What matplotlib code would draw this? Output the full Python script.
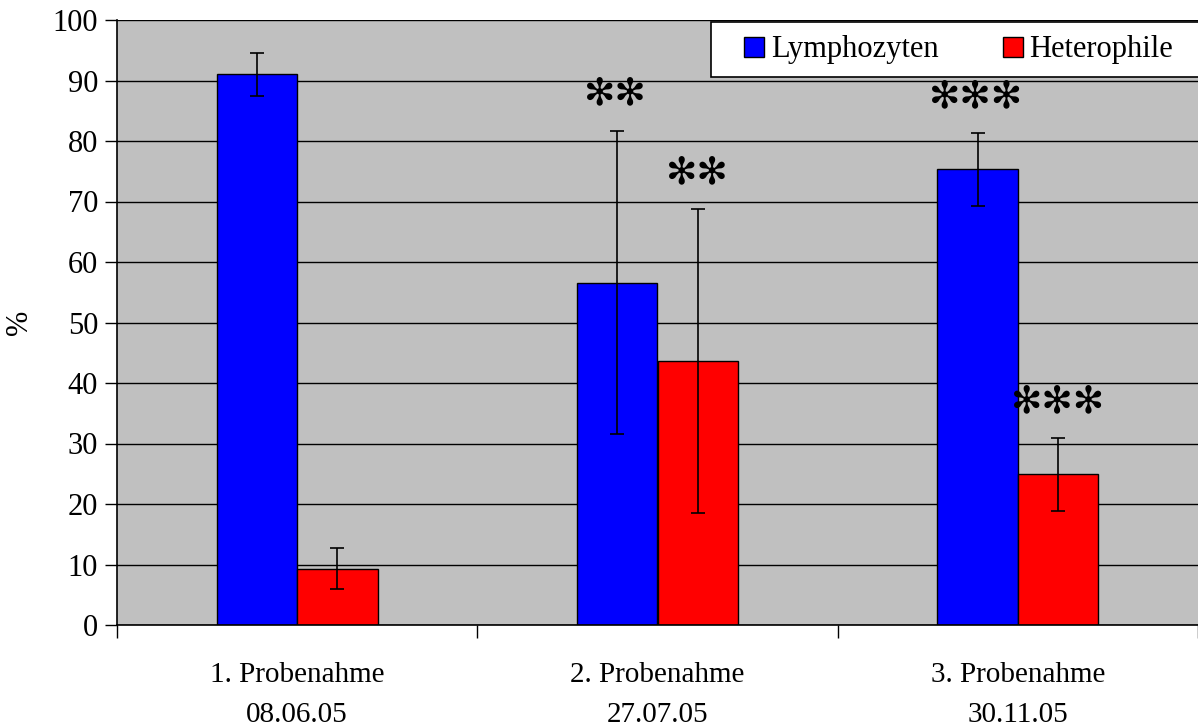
import matplotlib
matplotlib.use("Agg")
import matplotlib.pyplot as plt
from matplotlib.patches import Rectangle
import numpy as np

categories = ["1. Probenahme\n08.06.05", "2. Probenahme\n27.07.05", "3. Probenahme\n30.11.05"]
lymph = [91.0, 56.6, 75.3]
lymph_err = [3.5, 25.1, 6.0]
hetero = [9.3, 43.6, 24.9]
hetero_err = [3.4, 25.1, 6.0]
lymph_sig = ["", "✻✻", "✻✻✻"]
hetero_sig = ["", "✻✻", "✻✻✻"]
yticks = [0, 10, 20, 30, 40, 50, 60, 70, 80, 90, 100]

plt.rcParams['font.family'] = ['Liberation Serif', 'DejaVu Serif']

W, H = 1198, 727
fig = plt.figure(figsize=(W/100, H/100), dpi=100)
ax = fig.add_axes([117/W, 1-625/H, 1-117/W, (625-20)/H])
ax.set_facecolor('#C0C0C0')

x = np.arange(len(categories)) + 0.5
w = 0.2234
ax.set_axisbelow(True)
ax.yaxis.grid(True, color='black', linewidth=1)
b1 = ax.bar(x - w/2, lymph, w, color='#0000FF', edgecolor='black', linewidth=1, label='Lymphozyten', zorder=2)
b2 = ax.bar(x + w/2, hetero, w, color='#FF0000', edgecolor='black', linewidth=1, label='Heterophile', zorder=2)
ax.errorbar(x - w/2, lymph, yerr=lymph_err, fmt='none', ecolor='black', elinewidth=1.2, capsize=5, capthick=1.2, zorder=3)
ax.errorbar(x + w/2, hetero, yerr=hetero_err, fmt='none', ecolor='black', elinewidth=1.2, capsize=5, capthick=1.2, zorder=3)

for xi, v, e, s in zip(x - w/2, lymph, lymph_err, lymph_sig):
    if s:
        ax.text(xi - 0.005, v + e + 3, s, ha='center', va='bottom', fontsize=27, family='DejaVu Sans', zorder=4)
for xi, v, e, s in zip(x + w/2, hetero, hetero_err, hetero_sig):
    if s:
        ax.text(xi, v + e + 3, s, ha='center', va='bottom', fontsize=27, family='DejaVu Sans', zorder=4)

ax.set_xlim(0, 3)
ax.set_ylim(0, 100)
ax.set_yticks(yticks)
ax.set_xticks([0, 1, 2, 3])
ax.set_xticklabels([])
ax.set_xticks(x, minor=True)
ax.set_xticklabels(categories, minor=True, fontsize=21, linespacing=1.7)
ax.tick_params(axis='x', which='minor', length=0, pad=27)
ax.tick_params(axis='x', which='major', length=9, direction='out', width=1)
ax.tick_params(axis='y', length=8.6, direction='out', labelsize=22, width=1, pad=5)
for sp in ['top', 'right']:
    ax.spines[sp].set_visible(False)
ax.spines['left'].set_linewidth(1.2)
ax.spines['bottom'].set_linewidth(1.2)
ax.set_ylabel('%', fontsize=22)
ax.yaxis.set_label_coords(-(117-34)/1081, 0.5)

# legend frame
fig.patches.append(Rectangle((711/W, 1-77/H), (W-711+5)/W, 55/H, transform=fig.transFigure,
                             facecolor='white', edgecolor='black', linewidth=1.2, zorder=5))
leg = fig.legend(handles=[b1, b2], labels=['Lymphozyten', 'Heterophile'], loc='center left',
                 bbox_to_anchor=(744/W, 1-50/H), bbox_transform=fig.transFigure,
                 ncol=2, fontsize=22, frameon=False, handlelength=0.65, handleheight=0.65,
                 handletextpad=0.23, columnspacing=2.1, borderpad=0.0, borderaxespad=0.0)
leg.set_zorder(6)

fig.savefig('out.png', dpi=100)
